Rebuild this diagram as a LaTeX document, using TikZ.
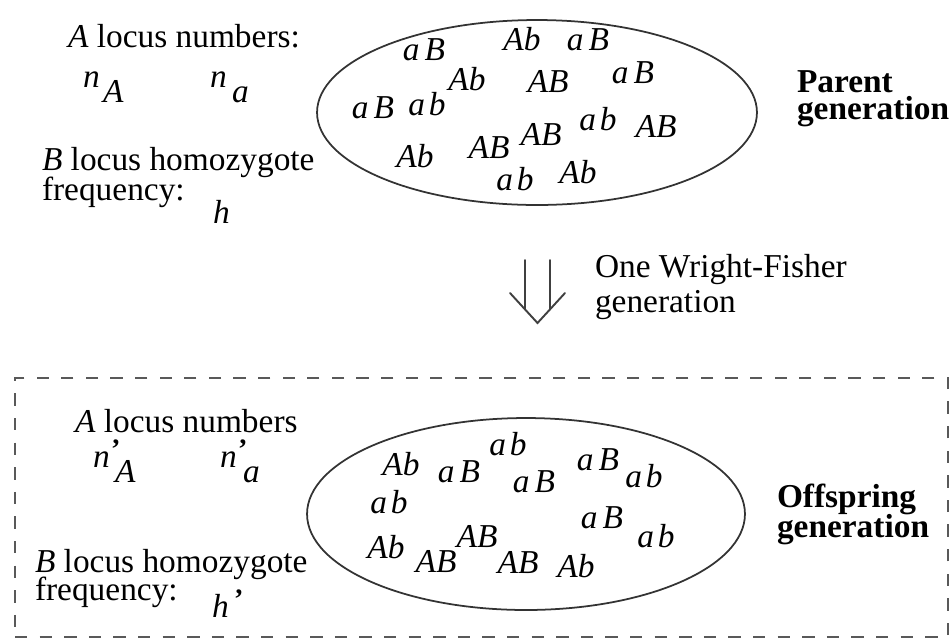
\documentclass[tikz,border=0pt]{standalone}
\usepackage{fontspec}
\setmainfont{Liberation Serif}
\usetikzlibrary{shapes.geometric}
\newcommand{\gsize}{\fontsize{19}{22}\selectfont}
\begin{document}
\begin{tikzpicture}[x=0.02cm,y=-0.02cm,
  every node/.style={inner sep=0pt, outer sep=0pt, font=\gsize},
  txt/.style={anchor=base west},
  var/.style={anchor=base west, font=\gsize\itshape},
  gam/.style={anchor=base, font=\gsize\itshape},
  gen/.style={anchor=base west, font=\gsize\bfseries},
  prm/.style={anchor=base west, font=\fontsize{16}{18}\selectfont\bfseries},
  pop/.style={draw=black!80, line width=1pt, ellipse},
  wf/.style={draw=black!75, line width=1.1pt, line cap=round, line join=miter}
]
\useasboundingbox (0,0) rectangle (949,640);

% ---------------- parent generation ----------------
\node[txt] (pA) at (68,47) {\textit{A} locus numbers:};
\node[var] (pn1) at (83,87) {n};
\node[var] (pn1s) at (103,102) {A};
\node[var] (pn2) at (210,87) {n};
\node[var] (pn2s) at (232,102) {a};
\node[txt] (pB) at (42,170) {\textit{B} locus homozygote};
\node[txt] (pF) at (42,200) {frequency:};
\node[var] (ph) at (213,223) {h};

\node[pop, minimum width=8.8cm, minimum height=3.7cm] (par) at (537,112.5) {};
\foreach \g/\x/\y [count=\i] in {
  a\hspace{0.15em}B/424/60, Ab/522/50, a\hspace{0.15em}B/588/50,
  Ab/467/90, AB/548/92, a\hspace{0.15em}B/633/83,
  a\hspace{0.15em}B/373/118, a\hspace{0.12em}b/427/115, a\hspace{0.12em}b/598/130,
  AB/656/137, AB/541/145, AB/489/158, Ab/415/167,
  a\hspace{0.12em}b/515/190, Ab/578/183}
  \node[gam] (pg\i) at (\x,\y) {\g};

\node[gen] (pt1) at (797,92) {Parent};
\node[gen] (pt2) at (797,119) {generation};

% ---------------- Wright-Fisher step ----------------
\coordinate (s1a) at (525,260);
\coordinate (s1b) at (525,309.4);
\coordinate (s2a) at (550,260);
\coordinate (s2b) at (550,309.4);
\coordinate (hl) at (510,293);
\coordinate (tip) at (537.5,323);
\coordinate (hr) at (565,293);
\draw[wf] (s1a) -- (s1b);
\draw[wf] (s2a) -- (s2b);
\draw[wf] (hl) -- (tip) -- (hr);
\node[txt] (wf1) at (595,277) {One Wright-Fisher};
\node[txt] (wf2) at (595,312) {generation};

% ---------------- offspring generation ----------------
\node[draw=black!65, line width=1.1pt, dash pattern=on 7pt off 7pt,
      minimum width=18.66cm, minimum height=5.18cm] (box) at (481.5,507.5) {};

\node[txt] (oA) at (75,432) {\textit{A} locus numbers};
\node[var] (on1) at (93,467) {n};
\node[prm] (on1p) at (111,458) {’};
\node[var] (on1s) at (115,482) {A};
\node[var] (on2) at (220,467) {n};
\node[prm] (on2p) at (238,458) {’};
\node[var] (on2s) at (243,482) {a};
\node[txt] (oB) at (35,572) {\textit{B} locus homozygote};
\node[txt] (oF) at (35,600) {frequency:};
\node[var] (oh) at (212,617) {h};
\node[prm] (ohp) at (234,608) {’};

\node[pop, minimum width=8.76cm, minimum height=3.84cm] (off) at (526,514) {};
\foreach \g/\x/\y [count=\i] in {
  Ab/401/475, a\hspace{0.15em}B/459/482, a\hspace{0.12em}b/508/455,
  a\hspace{0.15em}B/534/492, a\hspace{0.15em}B/598/470, a\hspace{0.12em}b/644/487,
  a\hspace{0.12em}b/389/513, a\hspace{0.15em}B/602/528, a\hspace{0.12em}b/656/547,
  AB/477/547, Ab/386/558, AB/436/572, AB/518/573, Ab/576/577}
  \node[gam] (og\i) at (\x,\y) {\g};

\node[gen] (ot1) at (777,507) {Offspring};
\node[gen] (ot2) at (777,537) {generation};
\end{tikzpicture}
\end{document}
